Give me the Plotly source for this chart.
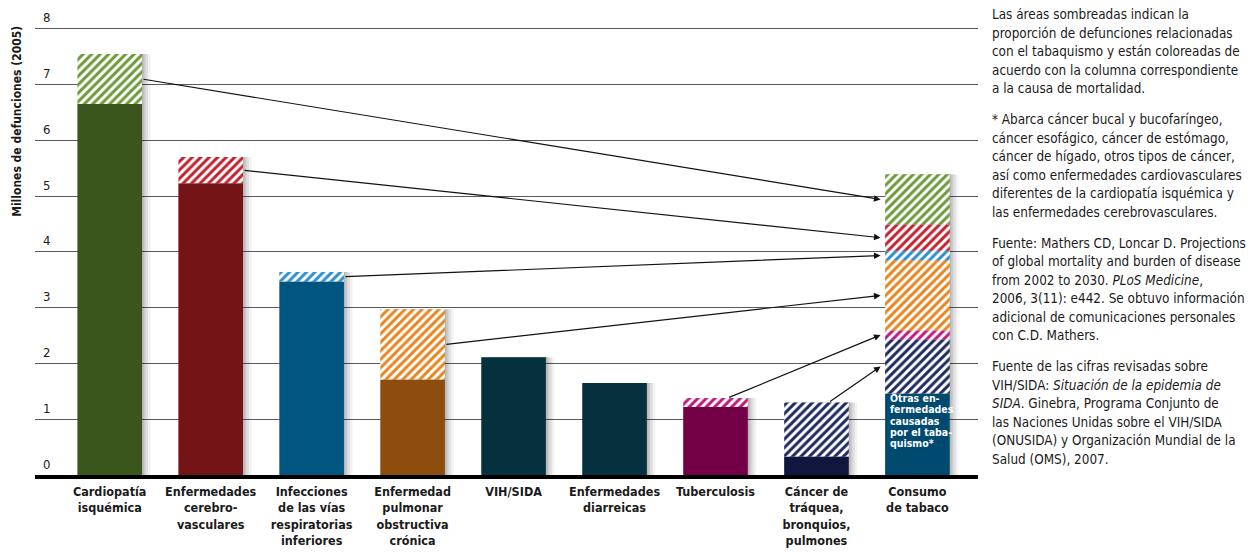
import plotly.graph_objects as go

# ---------------- data ----------------
categories = [
    "Cardiopatía<br>isquémica",
    "Enfermedades<br>cerebro-<br>vasculares",
    "Infecciones<br>de las vías<br>respiratorias<br>inferiores",
    "Enfermedad<br>pulmonar<br>obstructiva<br>crónica",
    "VIH/SIDA",
    "Enfermedades<br>diarreicas",
    "Tuberculosis",
    "Cáncer de<br>tráquea,<br>bronquios,<br>pulmones",
    "Consumo<br>de tabaco",
]
other_deaths = [6.65, 5.23, 3.47, 1.71, 2.11, 1.65, 1.22, 0.33]    # not tobacco-related
tobacco_deaths = [0.90, 0.47, 0.17, 1.26, 0.00, 0.00, 0.16, 0.97]  # tobacco-related share
other_tobacco = 1.46   # "Otras enfermedades causadas por el tabaquismo"
y_ticks = [0, 1, 2, 3, 4, 5, 6, 7, 8]

solid_colors = ["#3b561d", "#751417", "#015581", "#8d4d0f",
                "#05313f", "#05313f", "#730047", "#0f1740"]
hatch_colors = ["#6c9a38", "#c4202e", "#2c8fd0", "#e8841e",
                "#05313f", "#05313f", "#c2187c", "#1e2a5e"]
other_tobacco_color = "#004a6f"

side_text = [
    ["Las áreas sombreadas indican la",
     "proporción de defunciones relacionadas",
     "con el tabaquismo y están coloreadas de",
     "acuerdo con la columna correspondiente",
     "a la causa de mortalidad."],
    ["* Abarca cáncer bucal y bucofaríngeo,",
     "cáncer esofágico, cáncer de estómago,",
     "cáncer de hígado, otros tipos de cáncer,",
     "así como enfermedades cardiovasculares",
     "diferentes de la cardiopatía isquémica y",
     "las enfermedades cerebrovasculares."],
    ["Fuente: Mathers CD, Loncar D. Projections",
     "of global mortality and burden of disease",
     "from 2002 to 2030. <i>PLoS Medicine</i>,",
     "2006, 3(11): e442. Se obtuvo información",
     "adicional de comunicaciones personales",
     "con C.D. Mathers."],
    ["Fuente de las cifras revisadas sobre",
     "VIH/SIDA: <i>Situación de la epidemia de</i>",
     "<i>SIDA</i>. Ginebra, Programa Conjunto de",
     "las Naciones Unidas sobre el VIH/SIDA",
     "(ONUSIDA) y Organización Mundial de la",
     "Salud (OMS), 2007."],
]
bar_note = ["Otras en-", "fermedades", "causadas", "por el taba-", "quismo*"]
y_title = "Millones de defunciones (2005)"

# ---------------- layout constants (screen pixels) ----------------
W, H = 1257, 552
OFF = 8                      # page body margin
Y_TOP = 8.05
L, R, B = 35, 978, 475
PX_PER_UNIT = (475 - 29) / 8
T = B - Y_TOP * PX_PER_UNIT
FONT = "DejaVu Sans Condensed, sans-serif"
BW = 0.64
n = len(other_deaths)
TOB = n  # index of tobacco column


def px(xp):
    return (xp - L) / (R - L)


def py(yp):
    return (B - yp) / (B - T)


fig = go.Figure()

totals = [o + t for o, t in zip(other_deaths, tobacco_deaths)]

# tobacco column stack (bottom -> top)
stack_idx = [i for i in reversed(range(n)) if tobacco_deaths[i] > 0]
tob_bases = {}
cum = other_tobacco
for i in stack_idx:
    tob_bases[i] = cum
    cum += tobacco_deaths[i]
tob_total = cum

# shadows
for off, alpha in [(0.085, 0.05), (0.06, 0.07), (0.035, 0.09), (0.015, 0.10)]:
    fig.add_trace(go.Bar(
        x=list(range(n + 1)), y=totals + [tob_total],
        width=BW, offset=-BW / 2 + off,
        marker=dict(color=f"rgba(0,0,0,{alpha})", line_width=0),
        hoverinfo="skip", showlegend=False))

# solid part
fig.add_trace(go.Bar(
    x=list(range(n)), y=other_deaths, width=BW,
    marker=dict(color=solid_colors, line_width=0), showlegend=False))

# hatched (tobacco-related) part
for i in range(n):
    if tobacco_deaths[i] <= 0:
        continue
    fig.add_trace(go.Bar(
        x=[i], y=[tobacco_deaths[i]], base=[other_deaths[i]], width=BW,
        marker=dict(color="white", line_width=0,
                    pattern=dict(shape="/", fgcolor=hatch_colors[i], bgcolor="white",
                                 size=6, solidity=0.5, fillmode="replace")),
        showlegend=False))

# tobacco column
fig.add_trace(go.Bar(
    x=[TOB], y=[other_tobacco], width=BW,
    marker=dict(color=other_tobacco_color, line_width=0), showlegend=False))
for i in stack_idx:
    fig.add_trace(go.Bar(
        x=[TOB], y=[tobacco_deaths[i]], base=[tob_bases[i]], width=BW,
        marker=dict(color="white", line_width=0,
                    pattern=dict(shape="/", fgcolor=hatch_colors[i], bgcolor="white",
                                 size=6, solidity=0.5, fillmode="replace")),
        showlegend=False))

# arrows
annotations = []
for i in stack_idx:
    end_x = TOB - BW / 2 - 0.045
    end_y = tob_bases[i] + tobacco_deaths[i] / 2
    if i <= 3:
        sx, sy = i + BW / 2, other_deaths[i] + tobacco_deaths[i] / 2
    else:
        sx, sy = i + 0.12, totals[i]
    annotations.append(dict(
        x=end_x, y=end_y, ax=sx, ay=sy, xref="x", yref="y", axref="x", ayref="y",
        text="", showarrow=True, arrowhead=2, arrowsize=1.1, arrowwidth=1.2,
        arrowcolor="#111111", standoff=0, startstandoff=0))

# note inside tobacco column
for k, line in enumerate(bar_note):
    annotations.append(dict(
        x=TOB - BW / 2 + 0.03, y=py(398 + 11.3 * k), xref="x", yref="paper",
        text=f"<b>{line}</b>", showarrow=False, xanchor="left", yanchor="middle",
        font=dict(family=FONT, size=10.5, color="white")))

# right side text
line_no = 0
for p, para in enumerate(side_text):
    for line in para:
        annotations.append(dict(
            x=px(990), y=py(15 + 18.5 * line_no + 12.5 * p), xref="paper", yref="paper",
            text=line, showarrow=False, xanchor="left", yanchor="middle",
            font=dict(family=FONT, size=13.4, color="#1a1a1a")))
        line_no += 1

# y axis title
annotations.append(dict(
    x=px(17), y=py(122), xref="paper", yref="paper", text=f"<b>{y_title}</b>",
    textangle=-90, showarrow=False, xanchor="center", yanchor="middle",
    font=dict(family=FONT, size=12, color="#1a1a1a")))

fig.update_layout(
    width=W - OFF, height=H - OFF, barmode="overlay",
    margin=dict(l=L - OFF, r=W - R, t=T - OFF, b=H - B, pad=0),
    plot_bgcolor="white", paper_bgcolor="white",
    font=dict(family=FONT, color="#1a1a1a"),
    annotations=annotations,
    xaxis=dict(
        range=[-0.74, 8.6], tickvals=list(range(n + 1)), ticktext=[f"<b>{c}</b>" for c in categories],
        showgrid=False, zeroline=False, showline=True, linecolor="black", linewidth=4,
        ticks="", ticklabelstandoff=2, tickfont=dict(family=FONT, size=12.5, color="#1a1a1a"),
        automargin=False, fixedrange=True),
    yaxis=dict(
        range=[0, Y_TOP], tickvals=y_ticks, showgrid=True, gridcolor="#5a5a5a", gridwidth=1.3,
        zeroline=False, showline=False, ticks="",
        ticklabelposition="inside", ticklabelshift=-11, ticklabelstandoff=5,
        ticklabeloverflow="allow",
        tickfont=dict(family=FONT, size=13, color="#1a1a1a"),
        tickprefix="<b>", ticksuffix="</b>", automargin=False, fixedrange=True),
    showlegend=False,
)

fig.write_html("out.html")
